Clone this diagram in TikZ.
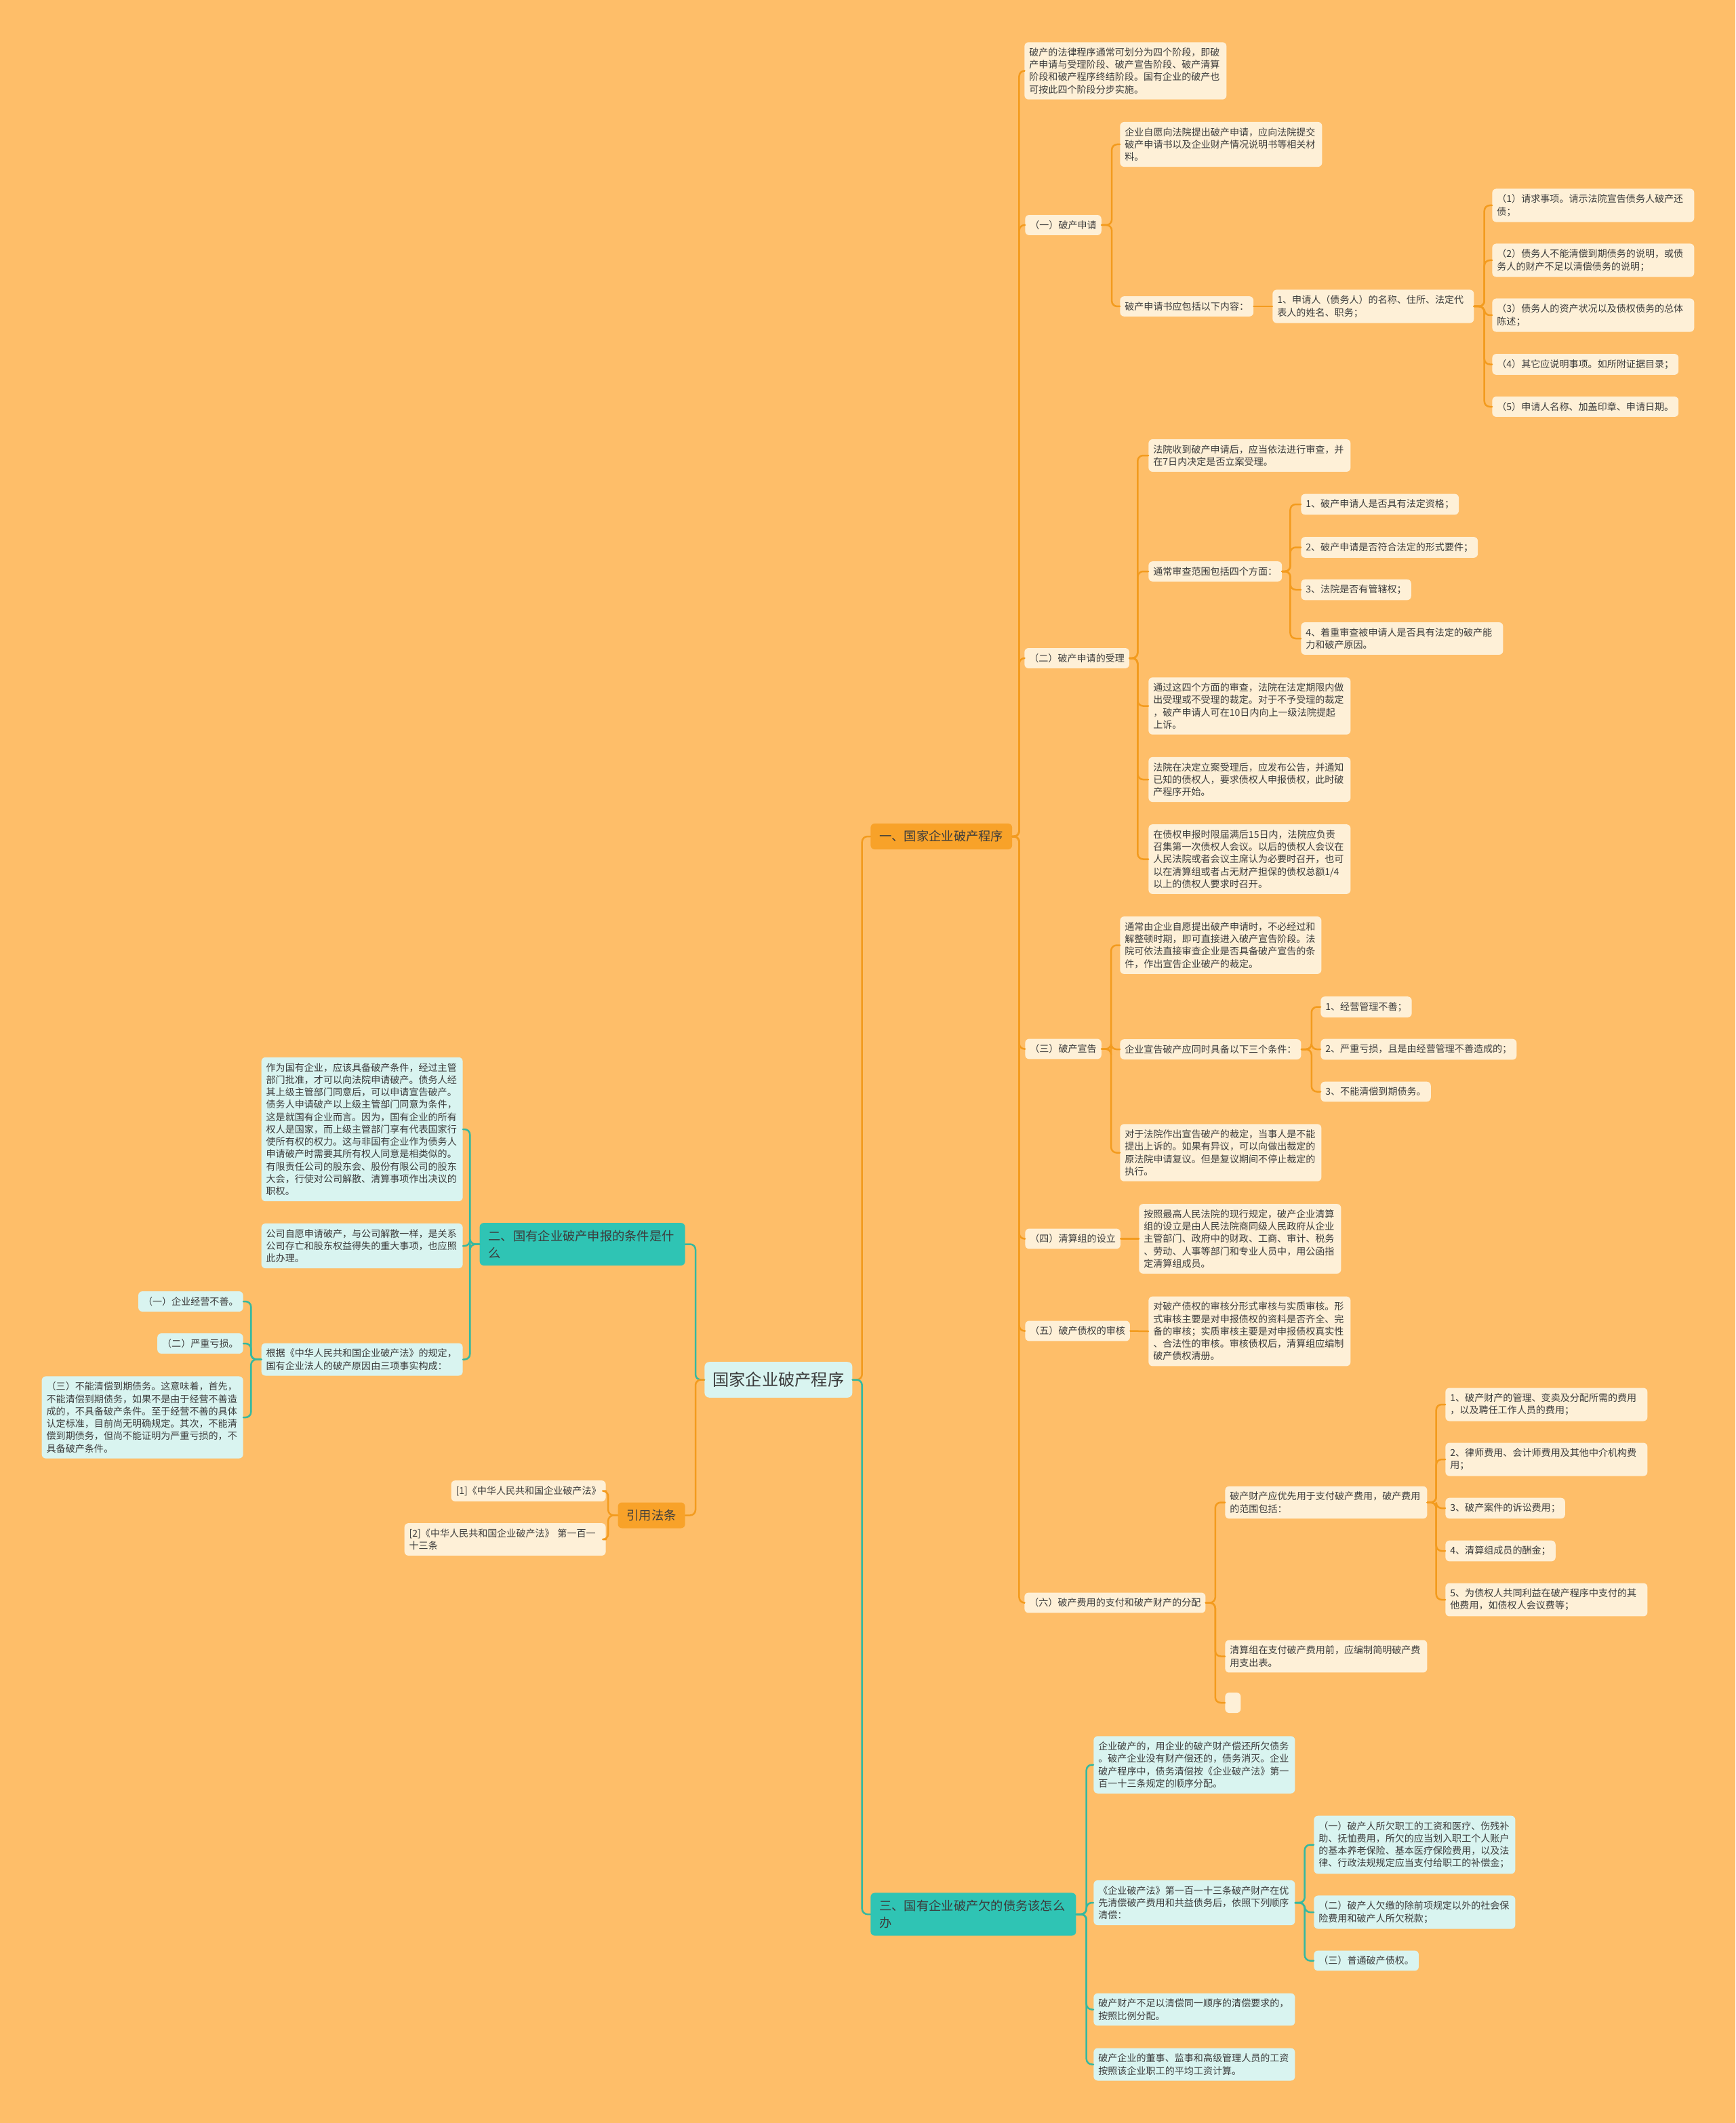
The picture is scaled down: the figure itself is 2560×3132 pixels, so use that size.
\documentclass[tikz,border=0pt]{standalone}
\usepackage{fontspec}
\setmainfont{Noto Sans CJK SC}
\usepackage{tikz}

\definecolor{bgc}{HTML}{FEBE69}
\definecolor{orln}{HTML}{F39B1E}
\definecolor{tlln}{HTML}{35B8A0}
\definecolor{cream}{HTML}{FEF0D7}
\definecolor{mint}{HTML}{D9F4F0}
\definecolor{orbox}{HTML}{F8A229}
\definecolor{tlbox}{HTML}{2FC4B4}
\definecolor{ink}{HTML}{3C3C3C}
\newdimen\pu \pu=0.2mm

\begin{document}
\begin{tikzpicture}[x=0.2mm,y=-0.2mm,line cap=round,line join=round,
  leafo/.style={fill=cream,rounded corners=1.2mm,inner xsep=1.4mm,inner ysep=4.7pt,align=left,font=\fontsize{8}{10.4}\selectfont,text=ink},
  leaft/.style={leafo,fill=mint},
  seco/.style={fill=orbox,rounded corners=1.2mm,inner xsep=2.6mm,inner ysep=6pt,align=left,font=\fontsize{10.4}{14.2}\selectfont,text=ink},
  sect/.style={seco,fill=tlbox},
  root/.style={fill=mint,rounded corners=1.4mm,inner xsep=2.4mm,inner ysep=8.5pt,font=\fontsize{13.8}{16}\selectfont,text=ink},
  lo/.style={draw=orln,line width=0.5mm,rounded corners=1.6mm},
  lt/.style={draw=tlln,line width=0.5mm,rounded corners=1.6mm}]
  \fill[bgc] (0,0) rectangle (2560,3132);
  \useasboundingbox (0,0) rectangle (2560,3132);

  % centre and main branches
  \node[root,anchor=west] (root) at (1039,2035.5) {国家企业破产程序};
  \node[seco,anchor=west] (sec1) at (1284,1234) {一、国家企业破产程序};
  \node[sect,anchor=east,text width=277\pu] (sec2) at (1011,1835.5) {二、国有企业破产申报的条件是什\\么};
  \node[sect,anchor=west,text width=277\pu] (sec3) at (1284,2824) {三、国有企业破产欠的债务该怎么\\办};
  \node[seco,anchor=east] (cite) at (1011,2235.5) {引用法条};

  % section one
  \node[leafo,anchor=west,text width=284\pu] (a0) at (1511,104.5) {破产的法律程序通常可划分为四个阶段，即破\\产申请与受理阶段、破产宣告阶段、破产清算\\阶段和破产程序终结阶段。国有企业的破产也\\可按此四个阶段分步实施。};
  \node[leafo,anchor=west] (sub1) at (1512,332) {（一）破产申请};
  \node[leafo,anchor=west,text width=284\pu] (n1a) at (1652,213) {企业自愿向法院提出破产申请，应向法院提交\\破产申请书以及企业财产情况说明书等相关材\\料。};
  \node[leafo,anchor=west] (n1b) at (1652,452) {破产申请书应包括以下内容：};
  \node[leafo,anchor=west,text width=283\pu] (n1c) at (1877,452) {1、申请人（债务人）的名称、住所、法定代\\表人的姓名、职务；};
  \node[leafo,anchor=west,text width=284\pu] (p1) at (2201,303) {（1）请求事项。请示法院宣告债务人破产还\\债；};
  \node[leafo,anchor=west,text width=284\pu] (p2) at (2201,384) {（2）债务人不能清偿到期债务的说明，或债\\务人的财产不足以清偿债务的说明；};
  \node[leafo,anchor=west,text width=284\pu] (p3) at (2201,465) {（3）债务人的资产状况以及债权债务的总体\\陈述；};
  \node[leafo,anchor=west] (p4) at (2201,537.5) {（4）其它应说明事项。如所附证据目录；};
  \node[leafo,anchor=west] (p5) at (2201,600) {（5）申请人名称、加盖印章、申请日期。};

  \node[leafo,anchor=west] (sub2) at (1511,971) {（二）破产申请的受理};
  \node[leafo,anchor=west,text width=284\pu] (n2a) at (1694,672) {法院收到破产申请后，应当依法进行审查，并\\在7日内决定是否立案受理。};
  \node[leafo,anchor=west] (n2b) at (1694,843) {通常审查范围包括四个方面：};
  \node[leafo,anchor=west] (q1) at (1919,744) {1、破产申请人是否具有法定资格；};
  \node[leafo,anchor=west] (q2) at (1919,807.5) {2、破产申请是否符合法定的形式要件；};
  \node[leafo,anchor=west] (q3) at (1919,870) {3、法院是否有管辖权；};
  \node[leafo,anchor=west,text width=284\pu] (q4) at (1919,942) {4、着重审查被申请人是否具有法定的破产能\\力和破产原因。};
  \node[leafo,anchor=west,text width=284\pu] (n2c) at (1694,1041.5) {通过这四个方面的审查，法院在法定期限内做\\出受理或不受理的裁定。对于不予受理的裁定\\，破产申请人可在10日内向上一级法院提起\\上诉。};
  \node[leafo,anchor=west,text width=284\pu] (n2d) at (1694,1150) {法院在决定立案受理后，应发布公告，并通知\\已知的债权人，要求债权人申报债权，此时破\\产程序开始。};
  \node[leafo,anchor=west,text width=284\pu] (n2e) at (1694,1267.5) {在债权申报时限届满后15日内，法院应负责\\召集第一次债权人会议。以后的债权人会议在\\人民法院或者会议主席认为必要时召开，也可\\以在清算组或者占无财产担保的债权总额1/4\\以上的债权人要求时召开。};

  \node[leafo,anchor=west] (sub3) at (1512,1547.5) {（三）破产宣告};
  \node[leafo,anchor=west,text width=283\pu] (n3a) at (1652,1394.5) {通常由企业自愿提出破产申请时，不必经过和\\解整顿时期，即可直接进入破产宣告阶段。法\\院可依法直接审查企业是否具备破产宣告的条\\件，作出宣告企业破产的裁定。};
  \node[leafo,anchor=west] (n3b) at (1652,1548) {企业宣告破产应同时具备以下三个条件：};
  \node[leafo,anchor=west] (r1) at (1948,1485.5) {1、经营管理不善；};
  \node[leafo,anchor=west] (r2) at (1948,1548) {2、严重亏损，且是由经营管理不善造成的；};
  \node[leafo,anchor=west] (r3) at (1948,1610.5) {3、不能清偿到期债务。};
  \node[leafo,anchor=west,text width=283\pu] (n3c) at (1652,1700.5) {对于法院作出宣告破产的裁定，当事人是不能\\提出上诉的。如果有异议，可以向做出裁定的\\原法院申请复议。但是复议期间不停止裁定的\\执行。};

  \node[leafo,anchor=west] (sub4) at (1512,1827.5) {（四）清算组的设立};
  \node[leafo,anchor=west,text width=284\pu] (n4a) at (1680,1827.5) {按照最高人民法院的现行规定，破产企业清算\\组的设立是由人民法院商同级人民政府从企业\\主管部门、政府中的财政、工商、审计、税务\\、劳动、人事等部门和专业人员中，用公函指\\定清算组成员。};
  \node[leafo,anchor=west] (sub5) at (1512,1963.5) {（五）破产债权的审核};
  \node[leafo,anchor=west,text width=284\pu] (n5a) at (1694,1964) {对破产债权的审核分形式审核与实质审核。形\\式审核主要是对申报债权的资料是否齐全、完\\备的审核；实质审核主要是对申报债权真实性\\、合法性的审核。审核债权后，清算组应编制\\破产债权清册。};

  \node[leafo,anchor=west] (sub6) at (1511,2364.5) {（六）破产费用的支付和破产财产的分配};
  \node[leafo,anchor=west,text width=284\pu] (n6a) at (1807,2216.5) {破产财产应优先用于支付破产费用，破产费用\\的范围包括：};
  \node[leafo,anchor=west,text width=284\pu] (s1) at (2132,2072) {1、破产财产的管理、变卖及分配所需的费用\\，以及聘任工作人员的费用；};
  \node[leafo,anchor=west,text width=284\pu] (s2) at (2132,2153) {2、律师费用、会计师费用及其他中介机构费\\用；};
  \node[leafo,anchor=west] (s3) at (2132,2225) {3、破产案件的诉讼费用；};
  \node[leafo,anchor=west] (s4) at (2132,2288) {4、清算组成员的酬金；};
  \node[leafo,anchor=west,text width=284\pu] (s5) at (2132,2360) {5、为债权人共同利益在破产程序中支付的其\\他费用，如债权人会议费等；};
  \node[leafo,anchor=west,text width=284\pu] (n6b) at (1807,2443.5) {清算组在支付破产费用前，应编制简明破产费\\用支出表。};
  \node[leafo,anchor=west,inner sep=0pt,minimum width=23\pu,minimum height=30\pu] (n6c) at (1807,2512) {};

  % section three
  \node[leaft,anchor=west,text width=283\pu] (t1) at (1613,2603.5) {企业破产的，用企业的破产财产偿还所欠债务\\。破产企业没有财产偿还的，债务消灭。企业\\破产程序中，债务清偿按《企业破产法》第一\\百一十三条规定的顺序分配。};
  \node[leaft,anchor=west,text width=283\pu] (t2) at (1613,2807) {《企业破产法》第一百一十三条破产财产在优\\先清偿破产费用和共益债务后，依照下列顺序\\清偿：};
  \node[leaft,anchor=west,text width=283\pu] (u1) at (1938,2721.5) {（一）破产人所欠职工的工资和医疗、伤残补\\助、抚恤费用，所欠的应当划入职工个人账户\\的基本养老保险、基本医疗保险费用，以及法\\律、行政法规规定应当支付给职工的补偿金；};
  \node[leaft,anchor=west,text width=283\pu] (u2) at (1938,2821) {（二）破产人欠缴的除前项规定以外的社会保\\险费用和破产人所欠税款；};
  \node[leaft,anchor=west] (u3) at (1938,2892.5) {（三）普通破产债权。};
  \node[leaft,anchor=west,text width=283\pu] (t3) at (1613,2964.5) {破产财产不足以清偿同一顺序的清偿要求的，\\按照比例分配。};
  \node[leaft,anchor=west,text width=283\pu] (t4) at (1613,3045.5) {破产企业的董事、监事和高级管理人员的工资\\按照该企业职工的平均工资计算。};

  % section two
  \node[leaft,anchor=east,text width=283\pu] (l1) at (683,1666) {作为国有企业，应该具备破产条件，经过主管\\部门批准，才可以向法院申请破产。债务人经\\其上级主管部门同意后，可以申请宣告破产。\\债务人申请破产以上级主管部门同意为条件，\\这是就国有企业而言。因为，国有企业的所有\\权人是国家，而上级主管部门享有代表国家行\\使所有权的权力。这与非国有企业作为债务人\\申请破产时需要其所有权人同意是相类似的。\\有限责任公司的股东会、股份有限公司的股东\\大会，行使对公司解散、清算事项作出决议的\\职权。};
  \node[leaft,anchor=east,text width=283\pu] (l2) at (683,1838) {公司自愿申请破产，与公司解散一样，是关系\\公司存亡和股东权益得失的重大事项，也应照\\此办理。};
  \node[leaft,anchor=east,text width=283\pu] (l3) at (683,2005.5) {根据《中华人民共和国企业破产法》的规定，\\国有企业法人的破产原因由三项事实构成：};
  \node[leaft,anchor=east] (m1) at (359,1920) {（一）企业经营不善。};
  \node[leaft,anchor=east] (m2) at (359,1982) {（二）严重亏损。};
  \node[leaft,anchor=east,text width=283\pu] (m3) at (359,2091) {（三）不能清偿到期债务。这意味着，首先，\\不能清偿到期债务，如果不是由于经营不善造\\成的，不具备破产条件。至于经营不善的具体\\认定标准，目前尚无明确规定。其次，不能清\\偿到期债务，但尚不能证明为严重亏损的，不\\具备破产条件。};

  % cited laws
  \node[leafo,anchor=east] (c1) at (894,2199.5) {[1]《中华人民共和国企业破产法》};
  \node[leafo,anchor=east,text width=283\pu] (c2) at (894,2271) {[2]《中华人民共和国企业破产法》~第一百一\\十三条};

  % connectors
  \draw[lo] (root.east) -- ++(14,0) |- (sec1.west);
  \draw[lt] (root.east) -- ++(14,0) |- (sec3.west);
  \draw[lt] (root.west) -- ++(-13,0) |- (sec2.east);
  \draw[lo] (root.west) -- ++(-13,0) |- (cite.east);

  \draw[lo] (sec1.east) -- ++(10,0) |- (a0.west);
  \draw[lo] (sec1.east) -- ++(10,0) |- (sub1.west);
  \draw[lo] (sec1.east) -- ++(10,0) |- (sub2.west);
  \draw[lo] (sec1.east) -- ++(10,0) |- (sub3.west);
  \draw[lo] (sec1.east) -- ++(10,0) |- (sub4.west);
  \draw[lo] (sec1.east) -- ++(10,0) |- (sub5.west);
  \draw[lo] (sec1.east) -- ++(10,0) |- (sub6.west);

  \draw[lo] (sub1.east) -- ++(15,0) |- (n1a.west);
  \draw[lo] (sub1.east) -- ++(15,0) |- (n1b.west);
  \draw[lo] (n1b.east) -- (n1c.west);
  \draw[lo] (n1c.east) -- ++(15,0) |- (p1.west);
  \draw[lo] (n1c.east) -- ++(15,0) |- (p2.west);
  \draw[lo] (n1c.east) -- ++(15,0) |- (p3.west);
  \draw[lo] (n1c.east) -- ++(15,0) |- (p4.west);
  \draw[lo] (n1c.east) -- ++(15,0) |- (p5.west);

  \draw[lo] (sub2.east) -- ++(12,0) |- (n2a.west);
  \draw[lo] (sub2.east) -- ++(12,0) |- (n2b.west);
  \draw[lo] (sub2.east) -- ++(12,0) |- (n2c.west);
  \draw[lo] (sub2.east) -- ++(12,0) |- (n2d.west);
  \draw[lo] (sub2.east) -- ++(12,0) |- (n2e.west);
  \draw[lo] (n2b.east) -- ++(12,0) |- (q1.west);
  \draw[lo] (n2b.east) -- ++(12,0) |- (q2.west);
  \draw[lo] (n2b.east) -- ++(12,0) |- (q3.west);
  \draw[lo] (n2b.east) -- ++(12,0) |- (q4.west);

  \draw[lo] (sub3.east) -- ++(14,0) |- (n3a.west);
  \draw[lo] (sub3.east) -- ++(14,0) |- (n3b.west);
  \draw[lo] (sub3.east) -- ++(14,0) |- (n3c.west);
  \draw[lo] (n3b.east) -- ++(15,0) |- (r1.west);
  \draw[lo] (n3b.east) -- ++(15,0) |- (r2.west);
  \draw[lo] (n3b.east) -- ++(15,0) |- (r3.west);

  \draw[lo] (sub4.east) -- (n4a.west);
  \draw[lo] (sub5.east) -- (n5a.west);

  \draw[lo] (sub6.east) -- ++(14,0) |- (n6a.west);
  \draw[lo] (sub6.east) -- ++(14,0) |- (n6b.west);
  \draw[lo] (sub6.east) -- ++(14,0) |- (n6c.west);
  \draw[lo] (n6a.east) -- ++(13,0) |- (s1.west);
  \draw[lo] (n6a.east) -- ++(13,0) |- (s2.west);
  \draw[lo] (n6a.east) -- ++(13,0) |- (s3.west);
  \draw[lo] (n6a.east) -- ++(13,0) |- (s4.west);
  \draw[lo] (n6a.east) -- ++(13,0) |- (s5.west);

  \draw[lt] (sec3.east) -- ++(15,0) |- (t1.west);
  \draw[lt] (sec3.east) -- ++(15,0) |- (t2.west);
  \draw[lt] (sec3.east) -- ++(15,0) |- (t3.west);
  \draw[lt] (sec3.east) -- ++(15,0) |- (t4.west);
  \draw[lt] (t2.east) -- ++(14,0) |- (u1.west);
  \draw[lt] (t2.east) -- ++(14,0) |- (u2.west);
  \draw[lt] (t2.east) -- ++(14,0) |- (u3.west);

  \draw[lt] (sec2.west) -- ++(-14,0) |- (l1.east);
  \draw[lt] (sec2.west) -- ++(-14,0) |- (l2.east);
  \draw[lt] (sec2.west) -- ++(-14,0) |- (l3.east);
  \draw[lt] (l3.west) -- ++(-15,0) |- (m1.east);
  \draw[lt] (l3.west) -- ++(-15,0) |- (m2.east);
  \draw[lt] (l3.west) -- ++(-15,0) |- (m3.east);

  \draw[lo] (cite.west) -- ++(-14,0) |- (c1.east);
  \draw[lo] (cite.west) -- ++(-14,0) |- (c2.east);
\end{tikzpicture}
\end{document}
